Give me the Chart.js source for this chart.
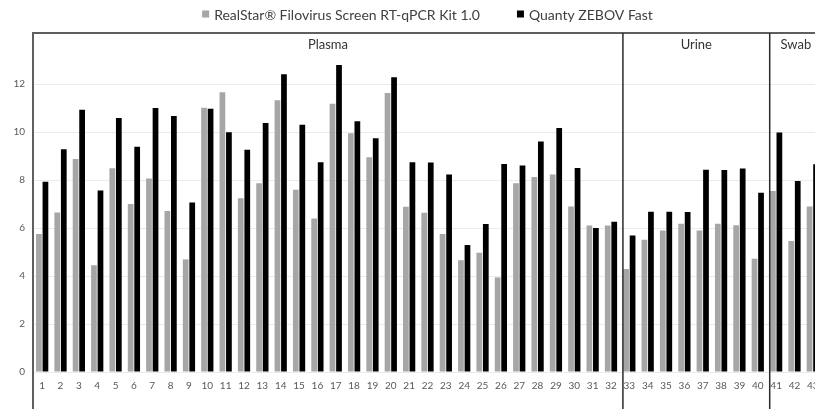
<!DOCTYPE html>
<html>
<head>
<meta charset="utf-8">
<script src="https://cdn.jsdelivr.net/npm/chart.js@4/dist/chart.umd.min.js"></script>
<style>
  html, body { margin: 0; padding: 0; background: #fff; overflow: hidden; }
  #wrap { width: 830px; height: 409px; }
</style>
</head>
<body>
<div id="wrap"><canvas id="chart" width="830" height="409"></canvas></div>
<script>
// sample numbers along the x axis
const categories = ['1', '2', '3', '4', '5', '6', '7', '8', '9', '10',
  '11', '12', '13', '14', '15', '16', '17', '18', '19', '20',
  '21', '22', '23', '24', '25', '26', '27', '28', '29', '30',
  '31', '32', '33', '34', '35', '36', '37', '38', '39', '40',
  '41', '42', '43'];

const realStar = [5.75, 6.65, 8.87, 4.45, 8.49, 7.0, 8.06, 6.71, 4.69, 11.01,
  11.66, 7.24, 7.86, 11.32, 7.59, 6.4, 11.18, 9.95, 8.95, 11.62,
  6.89, 6.64, 5.75, 4.66, 4.97, 3.94, 7.86, 8.13, 8.23, 6.9,
  6.1, 6.1, 4.29, 5.51, 5.9, 6.18, 5.9, 6.18, 6.11, 4.72,
  7.54, 5.46, 6.9];

const quanty = [7.93, 9.28, 10.93, 7.56, 10.58, 9.39, 11.0, 10.67, 7.06, 10.97,
  9.99, 9.26, 10.37, 12.41, 10.3, 8.74, 12.79, 10.45, 9.74, 12.28,
  8.74, 8.73, 8.23, 5.29, 6.17, 8.67, 8.6, 9.6, 10.17, 8.5,
  6.0, 6.26, 5.69, 6.68, 6.68, 6.67, 8.43, 8.42, 8.48, 7.47,
  9.98, 7.96, 8.66];

// sample type groups: name and number of samples in each
const groupNames = ['Plasma', 'Urine', 'Swab'];
const groupSizes = [32, 8, 3];

const yTicksShown = [0, 2, 4, 6, 8, 10, 12];

const FONT = "Lato, 'Liberation Sans', sans-serif";

// frame, group separators, group names and the legend row
const groupsPlugin = {
  id: 'groups',
  afterDraw(chart) {
    const ctx = chart.ctx;
    const area = chart.chartArea;
    const x = chart.scales.x;
    const step = x.getPixelForTick(1) - x.getPixelForTick(0);
    const top = area.top - 3;
    const bottom = chart.height;
    ctx.save();

    // outer frame (left + top)
    ctx.strokeStyle = '#5f5f5f';
    ctx.lineWidth = 2;
    ctx.beginPath();
    ctx.moveTo(area.left, bottom);
    ctx.lineTo(area.left, top);
    ctx.lineTo(chart.width, top);
    ctx.stroke();

    // separators between groups
    const edges = [area.left];
    let idx = 0;
    groupSizes.forEach((n, i) => {
      idx += n;
      if (i < groupSizes.length - 1) {
        const xs = x.getPixelForTick(idx) - step / 2 + step * 0.15;
        edges.push(xs);
        ctx.strokeStyle = '#2a2a2a';
        ctx.lineWidth = 1.5;
        ctx.beginPath();
        ctx.moveTo(xs, top);
        ctx.lineTo(xs, bottom);
        ctx.stroke();
      }
    });
    edges.push(area.right);

    ctx.fillStyle = '#333';
    ctx.font = '13px ' + FONT;
    ctx.textAlign = 'center';
    ctx.textBaseline = 'middle';
    groupNames.forEach((name, i) => {
      ctx.fillText(name, (edges[i] + edges[i + 1]) / 2, top + 12);
    });

    // legend
    ctx.font = '14px ' + FONT;
    ctx.textAlign = 'left';
    const box = 7, gap = 5, itemGap = 37;
    const items = chart.data.datasets.map(d => ({
      text: d.label, color: d.backgroundColor, w: ctx.measureText(d.label).width
    }));
    const total = items.reduce((s, it) => s + box + gap + it.w, 0) + itemGap * (items.length - 1);
    let lx = (area.left + area.right) / 2 - total / 2;
    const ly = 14;
    items.forEach(it => {
      ctx.fillStyle = it.color;
      ctx.fillRect(lx, ly - box / 2, box, box);
      ctx.fillStyle = '#404040';
      ctx.fillText(it.text, lx + box + gap, ly + 1);
      lx += box + gap + it.w + itemGap;
    });
    ctx.restore();
  }
};

new Chart(document.getElementById('chart'), {
  type: 'bar',
  data: {
    labels: categories,
    datasets: [
      {
        label: 'RealStar® Filovirus Screen RT-qPCR Kit 1.0',
        data: realStar,
        backgroundColor: '#a6a6a6'
      },
      {
        label: 'Quanty ZEBOV Fast',
        data: quanty,
        backgroundColor: '#000000'
      }
    ]
  },
  options: {
    responsive: false,
    animation: false,
    devicePixelRatio: 1,
    categoryPercentage: 0.71,
    barPercentage: 0.88,
    layout: { padding: { top: 36, right: 8, left: 0, bottom: 0 } },
    plugins: {
      legend: { display: false },
      tooltip: { enabled: false }
    },
    scales: {
      x: {
        grid: { display: false, drawTicks: false },
        border: { display: false },
        afterFit: s => { s.height = 37; },
        ticks: {
          padding: 8,
          autoSkip: false,
          maxRotation: 0,
          color: '#595959',
          font: { family: FONT, size: 10 }
        }
      },
      y: {
        min: 0,
        max: 14,
        afterBuildTicks: s => { s.ticks = s.ticks.filter(t => yTicksShown.includes(t.value)); },
        afterFit: s => { s.width = 33; },
        border: { display: false },
        grid: { color: '#ebebeb', drawTicks: false },
        ticks: {
          stepSize: 2,
          padding: 8,
          color: '#595959',
          font: { family: FONT, size: 10 }
        }
      }
    }
  },
  plugins: [groupsPlugin]
});
</script>
</body>
</html>
